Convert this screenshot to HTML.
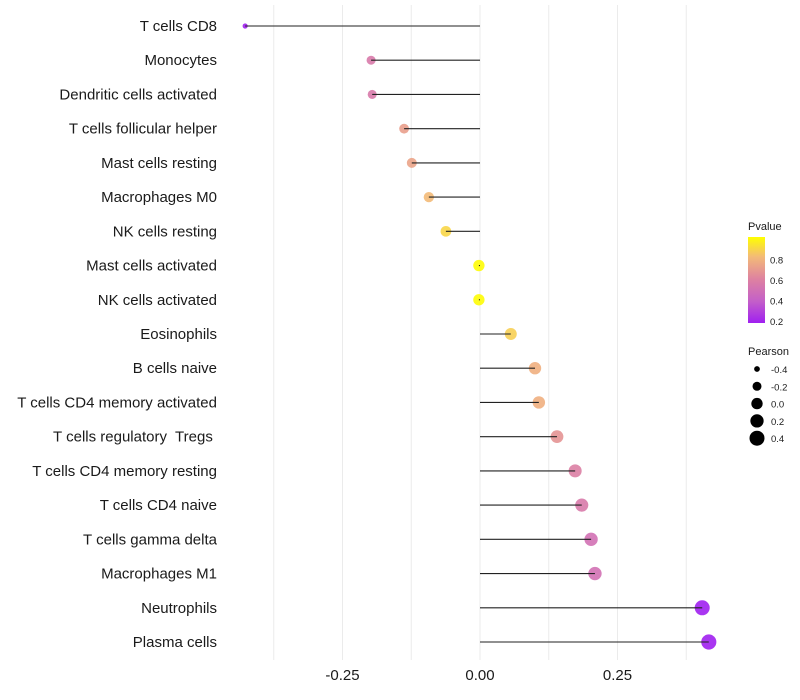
<!DOCTYPE html>
<html><head><meta charset="utf-8"><style>
body{margin:0;background:#fff;}
svg{display:block;font-family:"Liberation Sans",sans-serif;}
text{white-space:pre;}
</style></head><body>
<svg id="chart" width="800" height="700"></svg>
<script>
const categories=["T cells CD8","Monocytes","Dendritic cells activated","T cells follicular helper","Mast cells resting","Macrophages M0","NK cells resting","Mast cells activated","NK cells activated","Eosinophils","B cells naive","T cells CD4 memory activated","T cells regulatory  Tregs ","T cells CD4 memory resting","T cells CD4 naive","T cells gamma delta","Macrophages M1","Neutrophils","Plasma cells"];
const pearson=[-0.427,-0.198,-0.196,-0.138,-0.124,-0.093,-0.062,-0.002,-0.002,0.056,0.100,0.107,0.140,0.173,0.185,0.202,0.209,0.404,0.416];
const pvalues=[0.18,0.55,0.55,0.70,0.72,0.80,0.88,0.99,0.99,0.86,0.76,0.76,0.66,0.58,0.55,0.50,0.50,0.18,0.18];
const xTicks=[-0.25,0,0.25];
const xTickLabels=["-0.25","0.00","0.25"];
const gridVals=[-0.375,-0.25,-0.125,0,0.125,0.25,0.375];
const colorLegendVals=[0.2,0.4,0.6,0.8];
const sizeLegendVals=[-0.4,-0.2,0.0,0.2,0.4];

const NS="http://www.w3.org/2000/svg";
const svg=document.getElementById('chart');
const x=v=>480+v*550;
const y=i=>26+i*(616/18);
const r=v=>Math.sqrt(Math.max(2,32.25+60*v));
const stops=[[0.2,[160,32,240]],[0.4,[196,96,200]],[0.6,[222,130,160]],[0.8,[243,186,120]],[1.0,[255,255,0]]];
function col(p){p=Math.max(0.2,Math.min(1,p));for(let k=0;k<stops.length-1;k++){const a=stops[k],b=stops[k+1];if(p<=b[0]){const t=(p-a[0])/(b[0]-a[0]);return 'rgb('+a[1].map((c,j)=>Math.round(c+(b[1][j]-c)*t)).join(',')+')';}}return 'rgb(255,255,0)';}
function el(t,a,parent){const e=document.createElementNS(NS,t);for(const k in a)e.setAttribute(k,a[k]);(parent||svg).appendChild(e);return e;}

gridVals.forEach(g=>{const l=el('line',{x1:x(g),x2:x(g),y1:5,y2:660,stroke:'#ebebeb','stroke-width':1});

});

categories.forEach((c,i)=>{
 const d=el('circle',{cx:x(pearson[i]),cy:y(i),r:r(pearson[i]),fill:col(pvalues[i]),'fill-opacity':0.9});
 
 
 const s=el('line',{x1:x(0),x2:x(pearson[i]),y1:y(i),y2:y(i),stroke:'#222','stroke-width':1.1});
 
 
 const t=el('text',{x:217,y:y(i)+5,'text-anchor':'end','font-size':15,fill:'#1a1a1a'});
 t.textContent=c;
 
 
});
xTicks.forEach((v,i)=>{const t=el('text',{x:x(v),y:680,'text-anchor':'middle','font-size':15,fill:'#1a1a1a'});t.textContent=xTickLabels[i];

});

const defs=el('defs',{});
const gr=el('linearGradient',{id:'pg',x1:0,y1:1,x2:0,y2:0},defs);
stops.forEach(s=>el('stop',{offset:((s[0]-0.2)/0.78*100)+'%','stop-color':'rgb('+s[1].join(',')+')'},gr));
let t=el('text',{x:748,y:230,'font-size':11,fill:'#1a1a1a'});t.textContent='Pvalue';


const bar=el('rect',{x:748,y:237,width:17,height:86,fill:'url(#pg)'});


const py=p=>321-(p-0.2)*102.5;
colorLegendVals.forEach(v=>{const l=el('text',{x:770,y:py(v)+4,'font-size':9.5,fill:'#1a1a1a'});l.textContent=v.toFixed(1);

});
t=el('text',{x:748,y:355,'font-size':11,fill:'#1a1a1a'});t.textContent='Pearson';


sizeLegendVals.forEach((v,i)=>{const cy=369+i*17.3;
 const c=el('circle',{cx:757,cy:cy,r:r(v),fill:'#000'});
 
 
 const l=el('text',{x:771,y:cy+4,'font-size':9.5,fill:'#1a1a1a'});l.textContent=v.toFixed(1);
 
 });
</script>
</body></html>
